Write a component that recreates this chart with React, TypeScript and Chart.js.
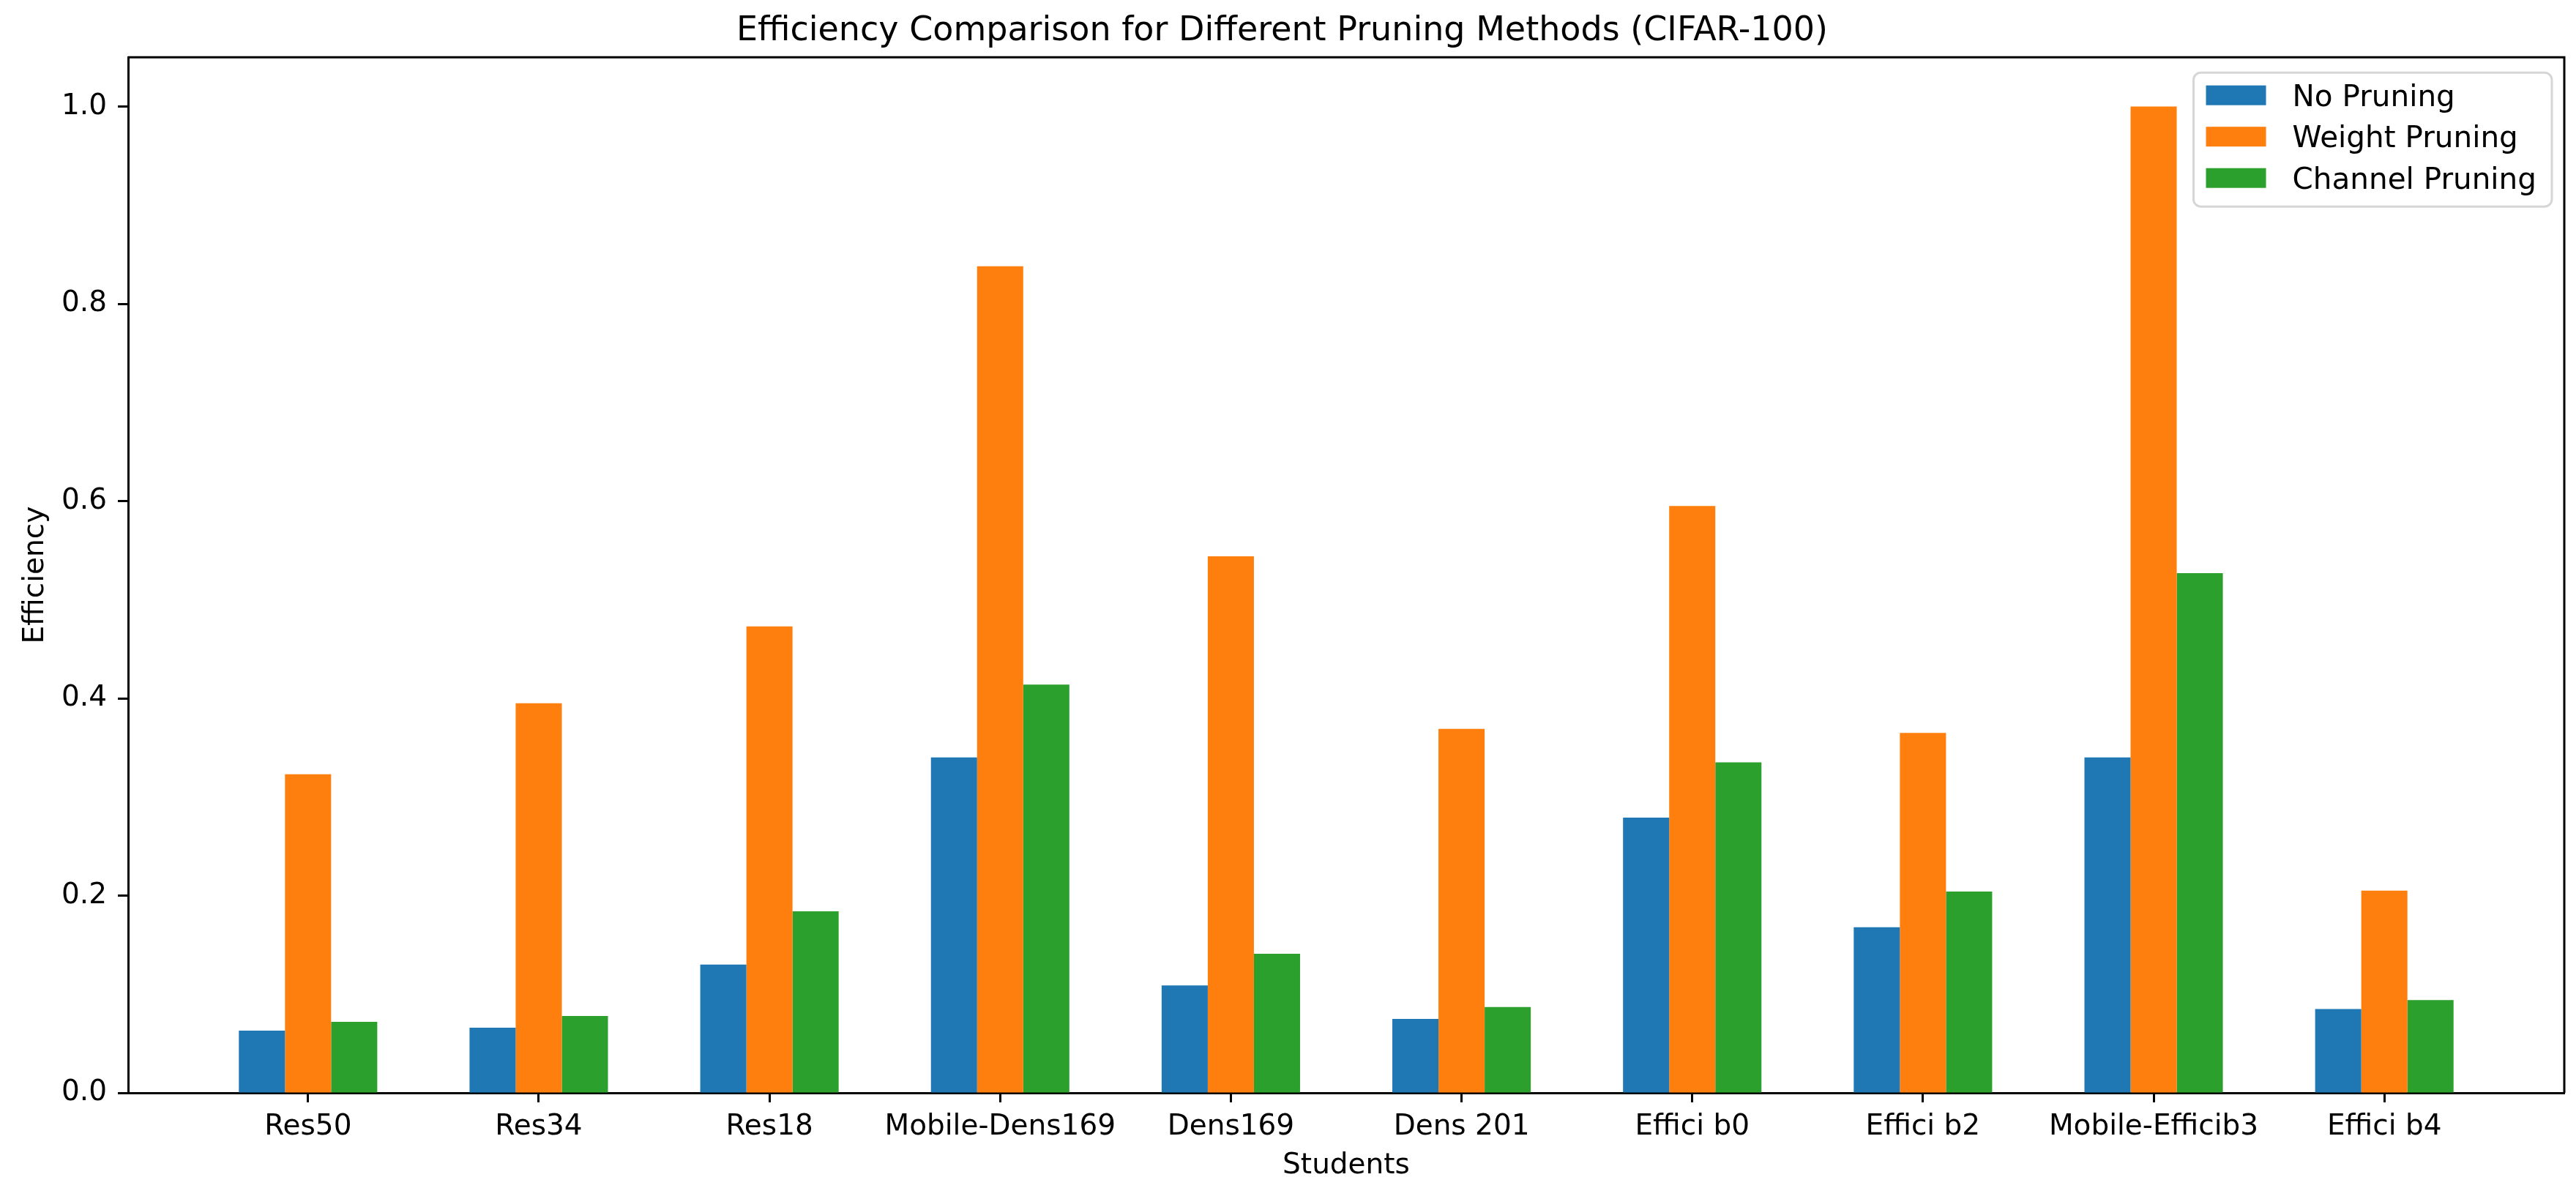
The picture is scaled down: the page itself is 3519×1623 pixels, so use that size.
import React, { useEffect, useRef } from "react";
import { Chart, registerables } from "chart.js";

Chart.register(...registerables);

const categories = [
  "Res50",
  "Res34",
  "Res18",
  "Mobile-Dens169",
  "Dens169",
  "Dens 201",
  "Effici b0",
  "Effici b2",
  "Mobile-Efficib3",
  "Effici b4",
];
const noPruning = [0.063, 0.066, 0.13, 0.34, 0.109, 0.075, 0.279, 0.168, 0.34, 0.085];
const weightPruning = [0.323, 0.395, 0.473, 0.838, 0.544, 0.369, 0.595, 0.365, 1.0, 0.205];
const channelPruning = [0.072, 0.078, 0.184, 0.414, 0.141, 0.087, 0.335, 0.204, 0.527, 0.094];
const seriesLabels = ["No Pruning", "Weight Pruning", "Channel Pruning"];
const seriesColors = ["#1f77b4", "#ff7f0e", "#2ca02c"];

const FONT = '"DejaVu Sans", "Liberation Sans", sans-serif';

const framePlugin = {
  id: "frame",
  afterDatasetsDraw(chart: any) {
    const { ctx, chartArea } = chart;
    ctx.save();
    ctx.strokeStyle = "#000";
    ctx.lineWidth = 3;
    ctx.beginPath();
    ctx.moveTo(chartArea.left, chartArea.top);
    ctx.lineTo(chartArea.right, chartArea.top);
    ctx.lineTo(chartArea.right, chartArea.bottom);
    ctx.stroke();
    ctx.restore();
  },
};

const legendPlugin = {
  id: "mplLegend",
  afterDraw(chart: any) {
    const { ctx, chartArea } = chart;
    const fs = 40.5;
    ctx.save();
    ctx.font = `${fs}px ${FONT}`;
    const items = chart.data.datasets.map((d: any) => ({ label: d.label, color: d.backgroundColor }));
    const textW = Math.max(...items.map((i: any) => ctx.measureText(i.label).width));
    const handleW = 82;
    const handleH = 27;
    const boxRight = chartArea.right - 17;
    const boxTop = chartArea.top + 21;
    const boxW = 17 + handleW + 36 + textW + 21;
    const boxH = 183;
    const boxLeft = boxRight - boxW;
    ctx.beginPath();
    (ctx as any).roundRect(boxLeft, boxTop, boxW, boxH, 10);
    ctx.fillStyle = "rgba(255,255,255,0.8)";
    ctx.fill();
    ctx.strokeStyle = "#d6d6d6";
    ctx.lineWidth = 3;
    ctx.stroke();
    ctx.textBaseline = "middle";
    ctx.textAlign = "left";
    items.forEach((it: any, k: number) => {
      const cy = boxTop + 31 + k * 56.5;
      ctx.fillStyle = it.color;
      ctx.fillRect(boxLeft + 17, cy - handleH / 2, handleW, handleH);
      ctx.fillStyle = "#000";
      ctx.fillText(it.label, boxLeft + 17 + handleW + 36, cy + 4);
    });
    ctx.restore();
  },
};

export default function App() {
  const ref = useRef<HTMLCanvasElement | null>(null);

  useEffect(() => {
    document.body.style.margin = "0";
    const canvas = ref.current;
    if (!canvas) return;
    const seriesValues = [noPruning, weightPruning, channelPruning];
    const chart = new Chart(canvas, {
      type: "bar",
      data: {
        datasets: seriesValues.map((vals, s) => ({
          label: seriesLabels[s],
          data: categories.map((_, i) => ({ x: i, y: vals[i] })),
          backgroundColor: seriesColors[s],
          borderWidth: 0,
          categoryPercentage: 0.6,
          barPercentage: 1.0,
        })),
      },
      options: {
        animation: false,
        responsive: false,
        devicePixelRatio: 1,
        layout: { padding: { left: 0, right: 16, top: 0, bottom: 0 } },
        plugins: {
          legend: { display: false },
          tooltip: { enabled: false },
          title: {
            display: true,
            text: "Efficiency Comparison for Different Pruning Methods (CIFAR-100)",
            color: "#000",
            font: { family: FONT, size: 46, weight: "normal" },
            padding: { top: 15, bottom: 8 },
          },
        },
        scales: {
          x: {
            type: "linear",
            min: -0.78,
            max: 9.78,
            offset: false,
            grid: {
              offset: false,
              drawOnChartArea: false,
              drawTicks: true,
              tickLength: 13,
              tickWidth: 3,
              tickColor: "#000",
            },
            border: { display: true, color: "#000", width: 3 },
            ticks: {
              stepSize: 1,
              includeBounds: false,
              autoSkip: false,
              maxRotation: 0,
              minRotation: 0,
              color: "#000",
              padding: 10,
              font: { family: FONT, size: 39 },
              callback: (v: any) => categories[v] ?? "",
            },
            title: {
              display: true,
              text: "Students",
              color: "#000",
              font: { family: FONT, size: 39 },
              padding: { top: 0, bottom: 7 },
            },
            afterFit: (s: any) => {
              s.height = 130;
            },
          },
          y: {
            min: 0,
            max: 1.05,
            grid: {
              drawOnChartArea: false,
              drawTicks: true,
              tickLength: 14,
              tickWidth: 3,
              tickColor: "#000",
            },
            border: { display: true, color: "#000", width: 3 },
            ticks: {
              stepSize: 0.2,
              includeBounds: false,
              color: "#000",
              padding: 15,
              font: { family: FONT, size: 39 },
              callback: (v: any) => Number(v).toFixed(1),
            },
            title: {
              display: true,
              text: "Efficiency",
              color: "#000",
              font: { family: FONT, size: 39 },
              padding: { top: 25, bottom: 0 },
            },
            afterFit: (s: any) => {
              s.width = 175;
            },
          },
        },
      } as any,
      plugins: [framePlugin, legendPlugin],
    });
    return () => chart.destroy();
  }, []);

  return (
    <div style={{ position: "absolute", left: 0, top: 0, width: 3519, height: 1623, background: "#fff" }}>
      <canvas ref={ref} width={3519} height={1623} style={{ display: "block" }} />
    </div>
  );
}
